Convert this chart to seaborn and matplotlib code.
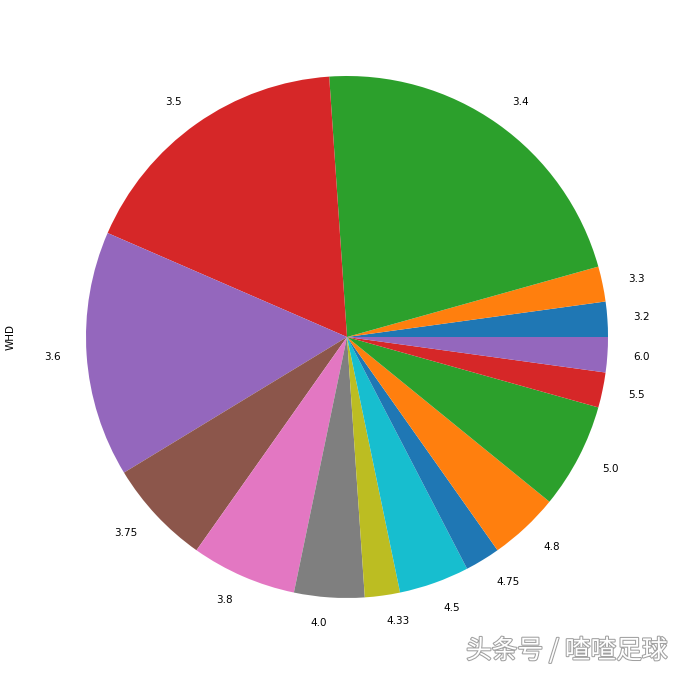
import matplotlib
matplotlib.use('Agg')
import matplotlib.pyplot as plt
import matplotlib.patheffects as pe
import seaborn as sns

# WHD 赔率分布
odds = ['3.2', '3.3', '3.4', '3.5', '3.6', '3.75', '3.8', '4.0', '4.33',
        '4.5', '4.75', '4.8', '5.0', '5.5', '6.0']
counts = [1, 1, 10, 8, 7, 3, 3, 2, 1, 2, 1, 2, 3, 1, 1]

colors = sns.color_palette('tab10', 10)
colors = [colors[i % 10] for i in range(len(odds))]

fig = plt.figure(figsize=(6.84, 6.73), dpi=100)
ax = fig.add_axes([86 / 684, 75 / 673, 522 / 684, 522 / 673])
ax.pie(counts, labels=odds, colors=colors, startangle=0, counterclock=True,
       textprops={'fontsize': 7.5})
ax.set_xlim(-1, 1)
ax.set_ylim(-1, 1)
ax.set_aspect('equal')
ax.set_ylabel('WHD', fontsize=7.5)
ax.yaxis.set_label_coords(-0.135, 0.5)

# 水印
fig.text(668 / 684, 1 - 651 / 673, '头条号 / 喳喳足球', ha='right', va='center',
         fontsize=18.5, color='white', family=['Noto Sans CJK SC', 'DejaVu Sans'],
         path_effects=[pe.withStroke(linewidth=1.5, foreground='#a0a0a0')])

fig.savefig('out.png', dpi=100)
